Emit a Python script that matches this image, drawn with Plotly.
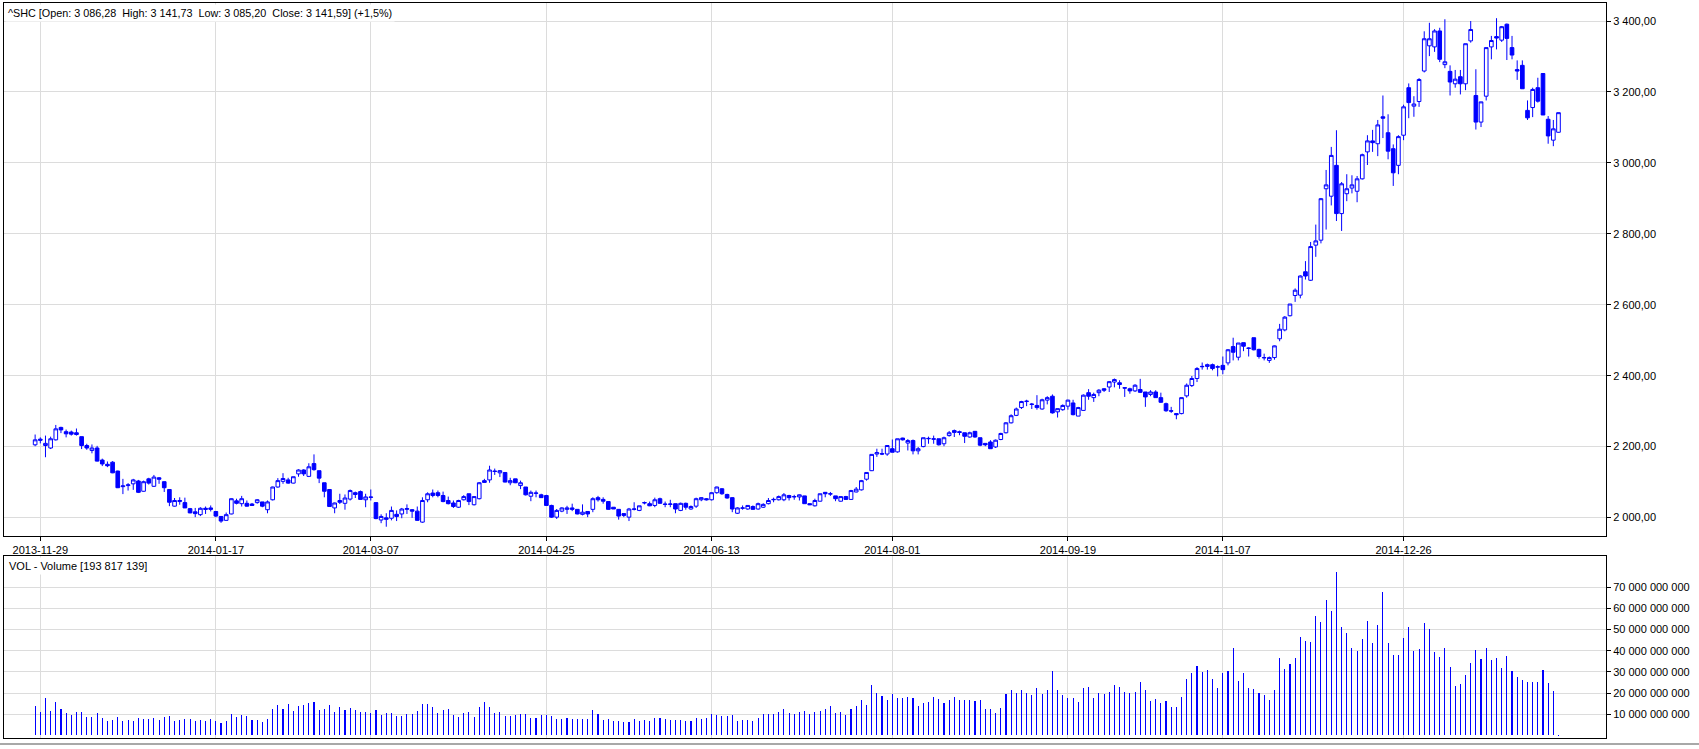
import pandas as pd
import plotly.graph_objects as go

# ---- trading calendar (Shanghai exchange, holidays removed) ----
holidays = ["2014-01-01", "2014-01-31", "2014-02-03", "2014-02-04", "2014-02-05", "2014-02-06",
            "2014-04-07", "2014-05-01", "2014-05-02", "2014-06-02", "2014-09-08",
            "2014-10-01", "2014-10-02", "2014-10-03", "2014-10-06", "2014-10-07",
            "2015-01-01", "2015-01-02"]
dates = [d.strftime("%Y-%m-%d") for d in pd.bdate_range("2013-11-28", "2015-02-10")
         if d.strftime("%Y-%m-%d") not in holidays]

open_ = [
    2205, 2221, 2203, 2196, 2219, 2254, 2242, 2241, 2239, 2228,
    2203, 2189, 2196, 2162, 2150, 2156, 2131, 2087, 2090, 2095,
    2103, 2074, 2109, 2088, 2112, 2101, 2079, 2032, 2045, 2042,
    2025, 2016, 2008, 2026, 2027, 2017, 2003, 1992, 2010, 2047,
    2039, 2040, 2038, 2042, 2044, 2022, 2050, 2086, 2102, 2106,
    2097, 2123, 2134, 2116, 2152, 2132, 2098, 2079, 2027, 2048,
    2040, 2052, 2070, 2073, 2050, 2058, 2042, 1993, 1999, 1998,
    2009, 2010, 2023, 2022, 2018, 1987, 2050, 2069, 2070, 2062,
    2048, 2041, 2029, 2050, 2067, 2036, 2053, 2104, 2106, 2131,
    2126, 2127, 2098, 2109, 2090, 2086, 2060, 2068, 2064, 2062,
    2034, 2001, 2018, 2023, 2027, 2023, 2009, 2017, 2023, 2056,
    2051, 2045, 2029, 2023, 2011, 2001, 2023, 2020, 2041, 2039,
    2034, 2053, 2038, 2037, 2039, 2020, 2040, 2024, 2032, 2050,
    2053, 2050, 2070, 2081, 2065, 2056, 2012, 2026, 2024, 2031,
    2024, 2029, 2039, 2050, 2050, 2050, 2062, 2058, 2058, 2061,
    2039, 2033, 2046, 2071, 2066, 2061, 2046, 2059, 2051, 2072,
    2078, 2108, 2132, 2179, 2180, 2179, 2194, 2185, 2224, 2210,
    2217, 2188, 2200, 2222, 2222, 2222, 2208, 2231, 2245, 2242,
    2239, 2227, 2243, 2225, 2209, 2213, 2199, 2220, 2239, 2267,
    2288, 2310, 2327, 2320, 2316, 2306, 2331, 2342, 2298, 2304,
    2314, 2323, 2286, 2302, 2352, 2338, 2352, 2363, 2368, 2382,
    2380, 2366, 2363, 2357, 2361, 2354, 2347, 2354, 2338, 2321,
    2301, 2293, 2293, 2343, 2372, 2392, 2425, 2426, 2431, 2424,
    2429, 2436, 2482, 2452, 2493, 2478, 2507, 2474, 2450, 2443,
    2451, 2504, 2529, 2569, 2626, 2627, 2693, 2669, 2768, 2782,
    2927, 2906, 2993, 2857, 2913, 2929, 2920, 2955, 3031, 3062,
    3054, 3130, 3085, 3040, 2993, 3078, 3212, 3160, 3173, 3259,
    3330, 3327, 3372, 3277, 3258, 3223, 3243, 3223, 3344, 3190,
    3115, 3188, 3327, 3356, 3346, 3391, 3325, 3263, 3275, 3148,
    3156, 3212, 3252, 3123, 3064, 3086.28,
]

high = [
    2234, 2226, 2231, 2228, 2261, 2256, 2248, 2245, 2251, 2228,
    2208, 2206, 2202, 2166, 2158, 2159, 2132, 2109, 2097, 2109,
    2106, 2104, 2112, 2120, 2114, 2102, 2079, 2055, 2057, 2056,
    2027, 2027, 2029, 2031, 2034, 2018, 2003, 2014, 2054, 2053,
    2061, 2048, 2041, 2052, 2044, 2048, 2087, 2111, 2125, 2112,
    2115, 2136, 2136, 2153, 2178, 2132, 2098, 2079, 2042, 2067,
    2065, 2079, 2073, 2076, 2067, 2079, 2042, 2009, 2012, 2031,
    2020, 2027, 2037, 2024, 2031, 2057, 2071, 2079, 2076, 2073,
    2059, 2048, 2050, 2063, 2067, 2059, 2100, 2109, 2146, 2138,
    2134, 2127, 2112, 2109, 2104, 2086, 2076, 2076, 2067, 2064,
    2036, 2024, 2029, 2033, 2039, 2024, 2037, 2018, 2057, 2061,
    2057, 2045, 2029, 2023, 2012, 2027, 2043, 2033, 2045, 2045,
    2056, 2056, 2045, 2050, 2039, 2042, 2042, 2034, 2056, 2057,
    2055, 2071, 2087, 2083, 2067, 2057, 2029, 2034, 2034, 2034,
    2042, 2040, 2055, 2056, 2062, 2069, 2064, 2064, 2065, 2061,
    2040, 2053, 2067, 2072, 2072, 2061, 2059, 2061, 2078, 2086,
    2106, 2127, 2179, 2194, 2194, 2203, 2220, 2222, 2225, 2221,
    2220, 2199, 2225, 2228, 2231, 2222, 2228, 2244, 2248, 2245,
    2239, 2242, 2244, 2225, 2209, 2218, 2220, 2239, 2269, 2291,
    2310, 2329, 2332, 2323, 2345, 2335, 2342, 2347, 2307, 2319,
    2332, 2332, 2312, 2347, 2362, 2352, 2362, 2365, 2385, 2392,
    2387, 2367, 2366, 2376, 2391, 2354, 2359, 2359, 2352, 2324,
    2312, 2293, 2338, 2378, 2399, 2424, 2437, 2434, 2434, 2429,
    2454, 2475, 2507, 2492, 2493, 2480, 2507, 2476, 2462, 2454,
    2485, 2546, 2568, 2602, 2646, 2683, 2723, 2777, 2826, 2901,
    2980, 3045, 3092, 2946, 2968, 2965, 2963, 3026, 3078, 3093,
    3121, 3190, 3137, 3052, 3078, 3164, 3224, 3188, 3239, 3371,
    3395, 3377, 3381, 3405, 3275, 3262, 3262, 3336, 3400, 3264,
    3172, 3325, 3358, 3408, 3386, 3393, 3358, 3289, 3289, 3176,
    3212, 3240, 3252, 3132, 3121, 3141.73,
]

low = [
    2201, 2209, 2170, 2193, 2217, 2238, 2226, 2231, 2231, 2193,
    2191, 2181, 2158, 2145, 2142, 2125, 2083, 2066, 2076, 2078,
    2069, 2073, 2093, 2086, 2095, 2072, 2032, 2031, 2036, 2027,
    2012, 2001, 2004, 2010, 2017, 2001, 1985, 1991, 2009, 2037,
    2031, 2031, 2033, 2039, 2029, 2012, 2048, 2084, 2095, 2095,
    2096, 2115, 2117, 2114, 2132, 2097, 2057, 2031, 2012, 2038,
    2022, 2048, 2055, 2051, 2029, 2048, 1995, 1984, 1974, 1992,
    1990, 1998, 2010, 1999, 1991, 1985, 2043, 2057, 2057, 2043,
    2037, 2027, 2027, 2048, 2035, 2034, 2051, 2098, 2098, 2120,
    2114, 2099, 2091, 2097, 2080, 2062, 2046, 2057, 2055, 2034,
    1999, 1996, 2015, 2010, 2018, 2009, 2006, 2001, 2015, 2045,
    2039, 2022, 2024, 1994, 2001, 1990, 2020, 2018, 2037, 2032,
    2029, 2039, 2029, 2029, 2012, 2018, 2022, 2022, 2027, 2046,
    2048, 2048, 2067, 2064, 2053, 2015, 2010, 2022, 2022, 2022,
    2022, 2027, 2037, 2043, 2048, 2046, 2048, 2050, 2048, 2039,
    2035, 2031, 2045, 2057, 2061, 2046, 2045, 2050, 2050, 2071,
    2076, 2104, 2131, 2171, 2176, 2174, 2184, 2183, 2217, 2189,
    2178, 2178, 2198, 2208, 2208, 2203, 2201, 2228, 2227, 2232,
    2210, 2225, 2225, 2201, 2201, 2194, 2196, 2218, 2237, 2265,
    2286, 2306, 2314, 2306, 2304, 2304, 2319, 2293, 2282, 2301,
    2304, 2288, 2286, 2301, 2332, 2326, 2342, 2354, 2354, 2367,
    2363, 2340, 2349, 2354, 2351, 2312, 2342, 2338, 2323, 2298,
    2295, 2277, 2291, 2338, 2368, 2382, 2417, 2417, 2415, 2398,
    2404, 2429, 2443, 2443, 2469, 2454, 2471, 2448, 2443, 2436,
    2445, 2497, 2525, 2567, 2608, 2618, 2671, 2667, 2735, 2773,
    2812, 2880, 2836, 2808, 2892, 2914, 2889, 2953, 2994, 3031,
    3019, 3070, 3010, 2935, 2968, 3064, 3126, 3130, 3158, 3255,
    3301, 3313, 3284, 3267, 3190, 3212, 3193, 3205, 3339, 3094,
    3101, 3176, 3292, 3320, 3341, 3290, 3292, 3234, 3209, 3121,
    3129, 3170, 3135, 3054, 3047, 3085.20,
]

close = [
    2219, 2218, 2209, 2222, 2250, 2247, 2236, 2235, 2234, 2203,
    2196, 2196, 2159, 2151, 2146, 2126, 2084, 2089, 2092, 2106,
    2071, 2101, 2097, 2114, 2108, 2084, 2043, 2048, 2048, 2027,
    2013, 2011, 2026, 2023, 2023, 2004, 1990, 2008, 2053, 2040,
    2053, 2032, 2034, 2050, 2032, 2044, 2086, 2104, 2110, 2097,
    2115, 2134, 2123, 2143, 2135, 2111, 2074, 2031, 2041, 2043,
    2055, 2076, 2065, 2051, 2058, 2057, 1997, 2003, 1995, 2020,
    2003, 2024, 2025, 2018, 1992, 2048, 2067, 2062, 2062, 2045,
    2039, 2031, 2048, 2059, 2045, 2059, 2098, 2099, 2134, 2130,
    2132, 2100, 2104, 2098, 2098, 2064, 2071, 2069, 2056, 2034,
    2001, 2020, 2027, 2027, 2023, 2010, 2015, 2010, 2053, 2050,
    2046, 2023, 2024, 2004, 2006, 2024, 2024, 2033, 2042, 2033,
    2050, 2040, 2037, 2038, 2024, 2040, 2029, 2031, 2053, 2056,
    2050, 2070, 2086, 2067, 2055, 2024, 2027, 2027, 2034, 2023,
    2039, 2037, 2048, 2051, 2059, 2064, 2056, 2059, 2064, 2039,
    2036, 2048, 2067, 2067, 2067, 2053, 2059, 2051, 2076, 2080,
    2104, 2127, 2178, 2183, 2179, 2203, 2184, 2222, 2219, 2217,
    2188, 2194, 2225, 2223, 2221, 2205, 2225, 2239, 2240, 2240,
    2229, 2239, 2227, 2204, 2205, 2194, 2218, 2237, 2267, 2287,
    2306, 2327, 2328, 2319, 2310, 2332, 2338, 2295, 2307, 2316,
    2331, 2290, 2310, 2345, 2342, 2347, 2359, 2359, 2383, 2389,
    2375, 2365, 2357, 2373, 2353, 2340, 2354, 2338, 2325, 2301,
    2300, 2290, 2338, 2373, 2392, 2420, 2426, 2431, 2420, 2425,
    2417, 2473, 2466, 2492, 2483, 2477, 2473, 2454, 2451, 2451,
    2484, 2531, 2565, 2602, 2641, 2681, 2681, 2764, 2780, 2899,
    2938, 3021, 2857, 2941, 2927, 2938, 2955, 3023, 3062, 3057,
    3107, 3126, 3033, 2972, 3074, 3158, 3170, 3166, 3235, 3350,
    3350, 3372, 3292, 3285, 3228, 3236, 3223, 3336, 3376, 3115,
    3172, 3325, 3345, 3352, 3384, 3351, 3304, 3259, 3209, 3127,
    3207, 3174, 3135, 3076, 3096, 3141.59,
]

# volume in billions
volume_bn = [
    13.9, 11.3, 17.6, 11.6, 15.8, 12.5, 10.6, 9.7, 11.1, 11.1,
    8.7, 8.7, 10.6, 8.3, 7.0, 7.3, 8.7, 7.0, 7.3, 6.9,
    8.3, 7.8, 7.8, 8.3, 7.3, 8.7, 9.2, 6.9, 7.5, 7.8,
    7.8, 6.9, 7.3, 6.9, 7.8, 6.9, 6.1, 6.9, 10.2, 8.7,
    9.7, 9.2, 7.3, 7.3, 6.4, 7.8, 12.5, 14.4, 12.5, 14.9,
    11.6, 13.9, 14.4, 15.4, 15.8, 12.0, 12.5, 14.4, 11.1, 13.5,
    12.0, 13.0, 12.0, 11.1, 11.1, 10.6, 12.0, 9.7, 10.6, 10.6,
    9.2, 9.2, 10.2, 10.2, 11.6, 14.9, 14.9, 13.5, 10.6, 12.0,
    12.5, 9.7, 8.7, 10.6, 11.1, 8.7, 13.5, 15.8, 13.5, 10.6,
    11.1, 9.2, 9.2, 9.7, 10.2, 10.2, 8.3, 8.3, 9.7, 9.7,
    9.2, 7.8, 7.8, 8.3, 7.8, 7.8, 7.8, 7.8, 12.0, 10.2,
    7.3, 7.8, 6.9, 6.9, 6.4, 6.4, 7.8, 7.0, 7.3, 6.9,
    8.3, 8.3, 7.8, 7.3, 7.3, 7.3, 6.9, 6.9, 8.3, 7.8,
    8.3, 10.2, 9.7, 9.2, 9.2, 9.7, 6.9, 7.3, 7.3, 6.9,
    8.3, 10.2, 10.2, 10.2, 11.1, 12.5, 10.6, 10.2, 11.1, 11.6,
    10.2, 11.1, 11.6, 12.5, 13.9, 10.6, 11.1, 9.7, 12.5, 13.9,
    16.8, 14.4, 23.9, 20.2, 18.7, 16.8, 19.6, 17.7, 17.7, 18.2,
    17.7, 13.9, 15.4, 15.8, 18.2, 17.2, 15.4, 16.8, 18.2, 16.8,
    16.8, 16.8, 16.3, 16.8, 12.5, 12.5, 10.6, 13.0, 19.6, 21.5,
    20.1, 21.5, 20.1, 19.1, 22.4, 19.6, 21.5, 30.5, 21.5, 19.1,
    17.7, 17.7, 15.8, 22.4, 22.8, 17.7, 20.1, 19.6, 20.6, 23.9,
    22.8, 20.6, 20.1, 20.6, 25.3, 21.5, 16.3, 17.2, 15.4, 16.3,
    13.5, 13.5, 18.2, 26.7, 29.5, 32.8, 30.0, 30.9, 26.7, 22.4,
    29.5, 30.5, 41.3, 25.7, 29.5, 22.4, 22.0, 20.1, 19.1, 16.8,
    21.5, 36.6, 31.4, 33.8, 36.6, 46.5, 44.6, 44.1, 56.5, 53.6,
    64.0, 58.8, 77.2, 51.3, 48.4, 41.3, 39.9, 45.6, 54.1, 43.7,
    52.2, 67.8, 43.7, 38.0, 38.0, 46.1, 51.3, 39.9, 40.9, 53.1,
    50.3, 39.4, 37.1, 41.3, 32.4, 23.4, 24.3, 28.6, 34.3, 40.4,
    36.1, 41.3, 35.7, 36.6, 31.9, 37.6, 30.5, 27.6, 26.2, 25.3,
    25.3, 25.3, 30.9, 24.8, 21.0, 0.193817139,
]

tick_dates = ["2013-11-29", "2014-01-17", "2014-03-07", "2014-04-25", "2014-06-13",
              "2014-08-01", "2014-09-19", "2014-11-07", "2014-12-26"]
price_ticks = [2000, 2200, 2400, 2600, 2800, 3000, 3200, 3400]
price_tick_text = ["2 000,00", "2 200,00", "2 400,00", "2 600,00", "2 800,00",
                   "3 000,00", "3 200,00", "3 400,00"]
vol_ticks = [1e10, 2e10, 3e10, 4e10, 5e10, 6e10, 7e10]
vol_tick_text = ["10 000 000 000", "20 000 000 000", "30 000 000 000", "40 000 000 000",
                 "50 000 000 000", "60 000 000 000", "70 000 000 000"]

title_text = ("^SHC [Open: 3 086,28 \u00a0High: 3 141,73 \u00a0Low: 3 085,20 "
              "\u00a0Close: 3 141,59] (+1,5%)")
vol_label = "VOL - Volume [193 817 139]"

BLUE = "#0000ff"
GRID = "#dcdcdc"
FONT = dict(family="Liberation Sans, Arial, sans-serif", size=11, color="black")

fig = go.Figure()
fig.add_trace(go.Candlestick(
    x=dates, open=open_, high=high, low=low, close=close,
    increasing=dict(line=dict(color=BLUE, width=1), fillcolor="white"),
    decreasing=dict(line=dict(color=BLUE, width=1), fillcolor=BLUE),
    whiskerwidth=0, showlegend=False, hoverinfo="skip",
    xaxis="x", yaxis="y"))
fig.add_trace(go.Bar(
    x=dates, y=[v * 1e9 for v in volume_bn], width=0.02,
    marker=dict(color=BLUE, line=dict(width=0)),
    showlegend=False, hoverinfo="skip", xaxis="x2", yaxis="y2"))

x_range = [-6.03, 304.2]
common_x = dict(type="category", range=x_range, showgrid=True, gridcolor=GRID, gridwidth=1,
                tickmode="array", tickvals=tick_dates, showline=True, linecolor="black",
                linewidth=1, mirror=True, zeroline=False, fixedrange=True)
common_y = dict(side="right", tickmode="array", ticks="outside", ticklen=4, tickcolor="black",
                tickfont=FONT, showgrid=True, gridcolor=GRID, gridwidth=1, showline=True,
                linecolor="black", linewidth=1, mirror=True, zeroline=False, fixedrange=True)

fig.update_layout(
    width=1699, height=749,
    margin=dict(l=4, r=93, t=3, b=11),
    paper_bgcolor="white", plot_bgcolor="white",
    showlegend=False,
    boxgap=0.16, boxgroupgap=0.16,
    bargap=0,
    font=FONT,
    xaxis=dict(**common_x, anchor="y", ticktext=tick_dates, ticks="outside", ticklen=4,
               tickcolor="black", tickfont=FONT, rangeslider=dict(visible=False),
               tickangle=0),
    xaxis2=dict(**common_x, anchor="y2", showticklabels=False, ticks="", matches="x"),
    yaxis=dict(**common_y, domain=[0.2748, 1.0], range=[1947.8, 3450.8], anchor="x",
               tickvals=price_ticks, ticktext=price_tick_text),
    yaxis2=dict(**common_y, domain=[0.0, 0.2476], range=[-1.18e9, 84.7e9], anchor="x2",
                tickvals=vol_ticks, ticktext=vol_tick_text),
    annotations=[
        dict(text=title_text, xref="paper", yref="paper", x=0, y=1, xanchor="left",
             yanchor="top", showarrow=False,
             font=dict(family="Liberation Sans, Arial, sans-serif", size=10.8, color="black"),
             bgcolor="white", borderpad=2, xshift=1, yshift=-1),
        dict(text=vol_label, xref="paper", yref="paper", x=0, y=0.2476, xanchor="left",
             yanchor="top", showarrow=False, font=FONT, bgcolor="white", borderpad=2,
             xshift=2, yshift=-1),
    ],
    shapes=[dict(type="line", xref="paper", yref="paper", x0=-0.003, x1=1.06,
                 y0=-0.0082, y1=-0.0082, line=dict(color="#a8a8a8", width=2))],
)

fig.write_html("out.html",
               config={"displayModeBar": False},
               post_script="document.body.style.margin='0px';document.body.style.overflow='hidden';")
